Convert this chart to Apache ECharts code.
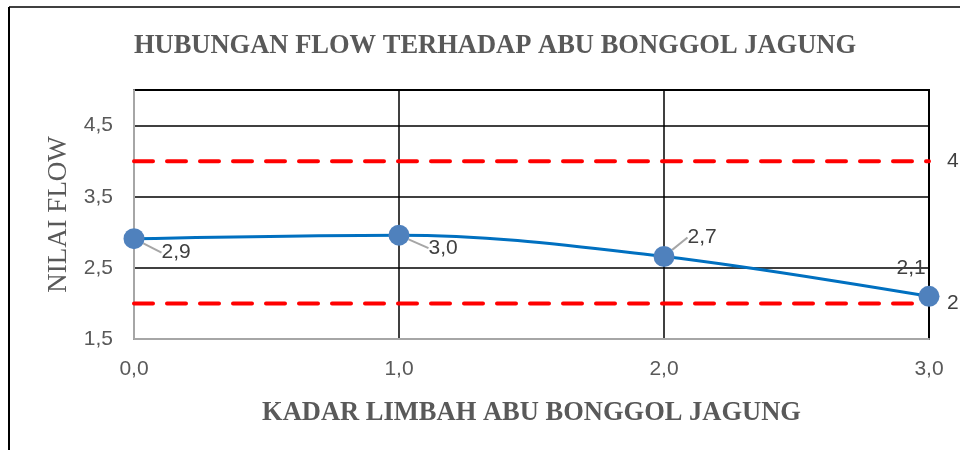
<!DOCTYPE html>
<html>
<head>
<meta charset="utf-8">
<script src="https://cdn.jsdelivr.net/npm/echarts@6/dist/echarts.min.js"></script>
<style>
  html, body { margin: 0; padding: 0; background: #fff; }
  #chart { width: 960px; height: 450px; }
</style>
</head>
<body>
<div id="chart"></div>
<script>
  // data
  var kadar = [0, 1, 2, 3];
  var flow = [2.91, 2.96, 2.66, 2.1];
  var batasAtas = [4, 4, 4, 4];
  var batasBawah = [2, 2, 2, 2];
  var judul = 'HUBUNGAN FLOW TERHADAP ABU BONGGOL JAGUNG';
  var namaX = 'KADAR LIMBAH ABU BONGGOL JAGUNG';
  var namaY = 'NILAI FLOW';

  function koma(v) {
    return Number(v).toFixed(1).replace('.', ',');
  }
  function pairs(ys) {
    return kadar.map(function (x, i) { return [x, ys[i]]; });
  }

  var chart = echarts.init(document.getElementById('chart'));

  // label offsets (excel-like data labels with leader lines)
  var labelShift = [[12, 14], [14, 13], [8, -19], [0, 0]];

  function limitSeries(ys) {
    return {
      type: 'line',
      data: pairs(ys),
      symbol: 'none',
      silent: true,
      lineStyle: { color: '#ff0000', width: 4, type: [19, 14], cap: 'round' },
      endLabel: {
        show: true,
        distance: 18,
        color: '#404040',
        fontFamily: 'Liberation Sans',
        fontSize: 21,
        formatter: function (p) { return koma(p.value[1]); }
      },
      z: 3
    };
  }

  var flowData = pairs(flow).map(function (d, i) {
    if (i === 3) return { value: d, labelLine: { show: false } };
    return { value: d };
  });

  var option = {
    //region basic
    backgroundColor: '#ffffff',
    animation: false,
    title: {
      text: judul,
      left: 490,
      textAlign: 'center',
      top: 28,
      textStyle: {
        color: '#595959',
        fontFamily: 'Liberation Serif',
        fontWeight: 'bold',
        fontSize: 26.5
      }
    },
    graphic: [
      { type: 'line', shape: { x1: 9, y1: 7, x2: 9, y2: 450 }, style: { stroke: '#000', lineWidth: 2 } },
      { type: 'line', shape: { x1: 9, y1: 7, x2: 960, y2: 7 }, style: { stroke: '#000', lineWidth: 1.5 } }
    ],
    //endregion
    //region grid & axes
    grid: {
      left: 134, right: 31, top: 90, bottom: 111,
      show: true, borderColor: '#000', borderWidth: 2
    },
    xAxis: {
      type: 'value',
      min: 0, max: 3, interval: 1,
      name: namaX,
      nameLocation: 'middle',
      nameGap: 61,
      nameTextStyle: {
        color: '#595959', fontFamily: 'Liberation Serif', fontWeight: 'bold', fontSize: 26.5
      },
      axisLine: { show: true, lineStyle: { color: '#a6a6a6', width: 2 } },
      axisTick: { show: false },
      axisLabel: {
        margin: 20, color: '#595959', fontFamily: 'Liberation Sans', fontSize: 21,
        formatter: koma
      },
      splitLine: { show: true, lineStyle: { color: '#000', width: 1.5 } }
    },
    yAxis: {
      type: 'value',
      min: 1.5, max: 5, interval: 1,
      name: namaY,
      nameLocation: 'middle',
      nameGap: 62,
      nameTextStyle: {
        color: '#595959', fontFamily: 'Liberation Serif', fontSize: 27
      },
      axisLine: { show: true, lineStyle: { color: '#a6a6a6', width: 2 } },
      axisTick: { show: false },
      axisLabel: {
        margin: 21, color: '#595959', fontFamily: 'Liberation Sans', fontSize: 21,
        formatter: function (v) { return v > 4.9 ? '' : koma(v); }
      },
      splitLine: { show: true, lineStyle: { color: '#000', width: 1.5 } }
    },
    //endregion
    //region series
    series: [
      limitSeries(batasAtas),
      limitSeries(batasBawah),
      {
        type: 'line',
        data: flowData,
        smooth: 0.35,
        symbol: 'circle',
        symbolSize: 21,
        lineStyle: { color: '#0070c0', width: 3 },
        itemStyle: { color: '#4f81bd' },
        label: {
          show: true,
          position: 'right',
          distance: 5,
          color: '#404040',
          fontFamily: 'Liberation Sans',
          fontSize: 21,
          formatter: function (p) { return koma(p.value[1]); }
        },
        labelLine: { show: true, lineStyle: { color: '#a6a6a6', width: 2 } },
        labelLayout: function (p) {
          if (p.dataIndex === 3) {
            return { x: p.rect.x - 22, y: p.rect.y - 28, align: 'left' };
          }
          var s = labelShift[p.dataIndex];
          return { dx: s[0], dy: s[1] };
        },
        z: 5
      }
    ]
    //endregion
  };
  chart.setOption(option, true);
</script>
</body>
</html>
